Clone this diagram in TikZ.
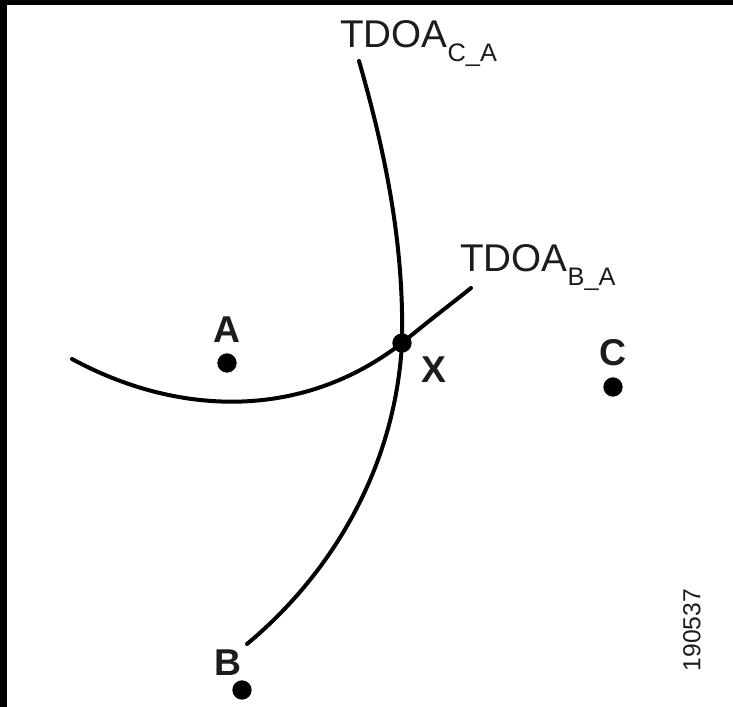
\documentclass[tikz,border=0pt]{standalone}
\usepackage{fontspec}
\setmainfont{Liberation Sans}
\usetikzlibrary{positioning}
\definecolor{negroTinta}{HTML}{1C1C1C}
\colorlet{colLinea}{black}
\colorlet{colTexto}{negroTinta}
\tikzset{
  puntoBase/.style={circle, fill=colLinea, minimum size=14.5pt, inner sep=0pt},
  curvaTDOA/.style={line width=3pt, line cap=round, colLinea},
  etiquetaPunto/.style={font=\fontsize{28}{28}\selectfont\bfseries, text=colTexto, inner sep=0pt},
  etiquetaCurva/.style={font=\fontsize{29}{29}\selectfont, text=colTexto, inner sep=0pt, anchor=base west},
  etiquetaFigura/.style={font=\fontsize{18.5}{18.5}\selectfont, text=colTexto, inner sep=0pt, rotate=90},
}
\newcommand{\subTDOA}[1]{\raisebox{-10.5pt}{\fontsize{19}{19}\selectfont #1}}
\begin{document}
\begin{tikzpicture}[x=0.75pt, y=-0.75pt]
  % marco
  \fill[black] (0,0) rectangle (733,707);
  \fill[white] (7,5) rectangle (733,707);
  \useasboundingbox (0,0) rectangle (733,707);

  \coordinate (cArriba) at (359,61);
  \coordinate (cAbajo) at (247,644);
  \coordinate (bIzq) at (72,359);
  \coordinate (bDer) at (471,288);
  \coordinate (cruce) at (402,343);

  % hiperbolas
  \draw[curvaTDOA] (cArriba) .. controls (389,165) and (404,253) .. (cruce)
                   .. controls (395,470) and (330,575) .. (cAbajo);
  \draw[curvaTDOA] (bIzq) .. controls (175,415) and (300,422) .. (cruce)
                   .. controls (436,315) and (455,301) .. (bDer);

  \node[etiquetaCurva] (tdoaC) at (340,47) {TDOA\subTDOA{C\_A}};
  \node[etiquetaCurva] (tdoaB) at (460,271) {TDOA\subTDOA{B\_A}};

  \node[puntoBase] (a) at (227,363) {};
  \node[puntoBase] (b) at (242,690) {};
  \node[puntoBase] (c) at (613,387) {};
  \node[puntoBase] (x) at (cruce) {};

  \node[etiquetaPunto, above=7.5pt of a] (etA) {A};
  \node[etiquetaPunto, above=3.5pt of b, xshift=-10.5pt] (etB) {B};
  \node[etiquetaPunto, above=8pt of c] (etC) {C};
  \node[etiquetaPunto, below right=5pt and 9pt of x] (etX) {X};

  \node[etiquetaFigura] (num) at (692,630) {190537};
\end{tikzpicture}
\end{document}
